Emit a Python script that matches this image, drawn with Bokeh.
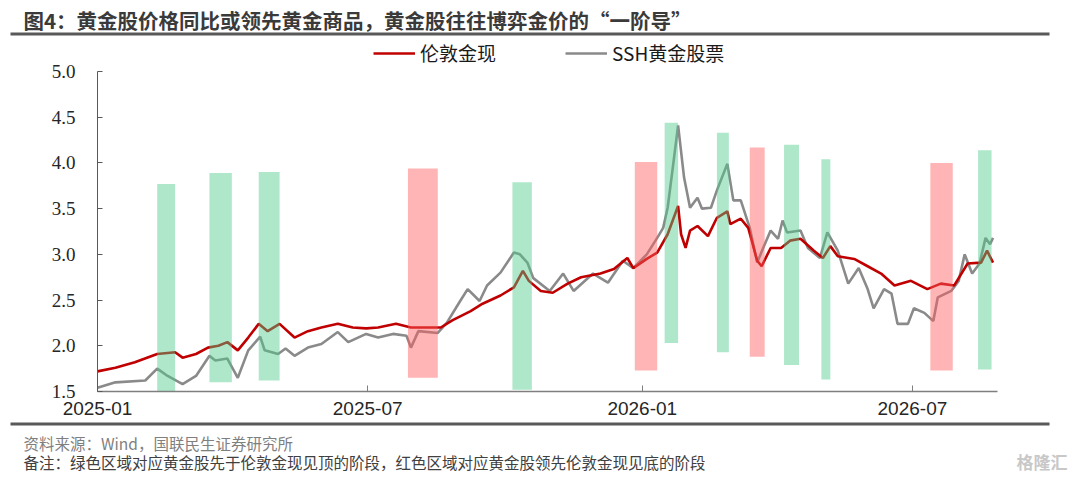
import pandas as pd
from bokeh.plotting import figure
from bokeh.layouts import column
from bokeh.models import (Range1d, FixedTicker, DatetimeTickFormatter, NumeralTickFormatter,
                          ColumnDataSource, Legend, LegendItem)
from bokeh.core.properties import value
from bokeh.embed import file_html
from bokeh.resources import INLINE

# ---------------- data ----------------
gold_dates = ["2025-01-01", "2025-01-13", "2025-01-26", "2025-02-10", "2025-02-22", "2025-02-27",
              "2025-03-08", "2025-03-16", "2025-03-23", "2025-03-29", "2025-04-05", "2025-04-12",
              "2025-04-19", "2025-04-25", "2025-05-03", "2025-05-13", "2025-05-22", "2025-05-31",
              "2025-06-11", "2025-06-21", "2025-06-30", "2025-07-08", "2025-07-20", "2025-07-30",
              "2025-08-10", "2025-08-19", "2025-08-27", "2025-09-08", "2025-09-16", "2025-09-28",
              "2025-10-07", "2025-10-13", "2025-10-17", "2025-10-25", "2025-11-02", "2025-11-12",
              "2025-11-21", "2025-12-04", "2025-12-13", "2025-12-22", "2025-12-26", "2026-01-04",
              "2026-01-11", "2026-01-18", "2026-01-25", "2026-01-27", "2026-01-30", "2026-02-02",
              "2026-02-07", "2026-02-14", "2026-02-20", "2026-02-27", "2026-03-01", "2026-03-08",
              "2026-03-13", "2026-03-19", "2026-03-22", "2026-03-28", "2026-04-04", "2026-04-10",
              "2026-04-17", "2026-04-26", "2026-05-02", "2026-05-07", "2026-05-12", "2026-05-23",
              "2026-06-01", "2026-06-10", "2026-06-19", "2026-06-30", "2026-07-11", "2026-07-20",
              "2026-07-29", "2026-08-07", "2026-08-16", "2026-08-20", "2026-08-24"]
gold_vals = [1.72, 1.76, 1.82, 1.91, 1.93, 1.87,
             1.91, 1.98, 2.00, 2.04, 1.95, 2.09,
             2.24, 2.16, 2.24, 2.09, 2.16, 2.20,
             2.24, 2.20, 2.19, 2.20, 2.24, 2.20,
             2.20, 2.20, 2.28, 2.38, 2.46, 2.55,
             2.64, 2.82, 2.71, 2.60, 2.58, 2.68,
             2.75, 2.79, 2.84, 2.96, 2.85, 2.95,
             3.02, 3.22, 3.53, 3.22, 3.07, 3.26,
             3.31, 3.20, 3.40, 3.47, 3.33, 3.39,
             3.29, 2.93, 2.87, 3.07, 3.07, 3.15,
             3.17, 3.04, 2.96, 3.09, 2.98, 2.95,
             2.87, 2.79, 2.66, 2.71, 2.62, 2.68,
             2.66, 2.90, 2.91, 3.04, 2.91]

ssh_dates = ["2025-01-01", "2025-01-13", "2025-02-02", "2025-02-10", "2025-02-17", "2025-02-27",
             "2025-03-08", "2025-03-17", "2025-03-21", "2025-03-29", "2025-04-05", "2025-04-12",
             "2025-04-20", "2025-04-23", "2025-05-02", "2025-05-07", "2025-05-13", "2025-05-22",
             "2025-05-31", "2025-06-11", "2025-06-18", "2025-06-30", "2025-07-08", "2025-07-18",
             "2025-07-27", "2025-07-30", "2025-08-04", "2025-08-17", "2025-08-23", "2025-09-01",
             "2025-09-06", "2025-09-14", "2025-09-19", "2025-09-28", "2025-10-07", "2025-10-11",
             "2025-10-16", "2025-10-20", "2025-10-31", "2025-11-09", "2025-11-16", "2025-11-29",
             "2025-12-09", "2025-12-19", "2025-12-26", "2026-01-04", "2026-01-11", "2026-01-15",
             "2026-01-18", "2026-01-22", "2026-01-25", "2026-01-29", "2026-02-02", "2026-02-07",
             "2026-02-10", "2026-02-16", "2026-02-20", "2026-02-27", "2026-03-03", "2026-03-08",
             "2026-03-14", "2026-03-19", "2026-03-23", "2026-03-28", "2026-04-02", "2026-04-05",
             "2026-04-08", "2026-04-17", "2026-04-22", "2026-04-30", "2026-05-05", "2026-05-12",
             "2026-05-19", "2026-05-26", "2026-06-01", "2026-06-05", "2026-06-12", "2026-06-17",
             "2026-06-21", "2026-06-28", "2026-07-02", "2026-07-09", "2026-07-15", "2026-07-18",
             "2026-07-27", "2026-08-01", "2026-08-05", "2026-08-10", "2026-08-15", "2026-08-19",
             "2026-08-22", "2026-08-24"]
ssh_vals = [1.54, 1.60, 1.62, 1.75, 1.67, 1.58,
            1.67, 1.89, 1.84, 1.86, 1.65, 1.95,
            2.10, 1.95, 1.91, 1.97, 1.89, 1.98,
            2.02, 2.15, 2.04, 2.13, 2.09, 2.13,
            2.11, 1.98, 2.16, 2.14, 2.25, 2.49,
            2.62, 2.49, 2.66, 2.80, 3.02, 3.00,
            2.91, 2.74, 2.60, 2.79, 2.60, 2.79,
            2.69, 2.93, 2.85, 3.00, 3.18, 3.29,
            3.51, 4.02, 4.41, 3.84, 3.51, 3.62,
            3.50, 3.51, 3.70, 3.99, 3.59, 3.59,
            3.29, 2.91, 3.07, 3.26, 3.17, 3.37,
            3.24, 3.26, 3.07, 2.96, 3.24, 3.04,
            2.68, 2.85, 2.62, 2.41, 2.62, 2.57,
            2.24, 2.24, 2.41, 2.36, 2.27, 2.53,
            2.60, 2.71, 3.00, 2.79, 2.90, 3.18,
            3.11, 3.18]

green_start = ["2025-02-10", "2025-03-17", "2025-04-19", "2025-10-06", "2026-01-16",
               "2026-02-20", "2026-04-06", "2026-05-01", "2026-08-14"]
green_end = ["2025-02-22", "2025-04-01", "2025-05-03", "2025-10-19", "2026-01-25",
             "2026-02-28", "2026-04-16", "2026-05-07", "2026-08-23"]
green_low = [1.50, 1.60, 1.62, 1.52, 2.03, 1.93, 1.79, 1.63, 1.74]
green_high = [3.77, 3.89, 3.90, 3.79, 4.44, 4.33, 4.20, 4.04, 4.14]

red_start = ["2025-07-28", "2025-12-27", "2026-03-14", "2026-07-13"]
red_end = ["2025-08-17", "2026-01-11", "2026-03-24", "2026-07-28"]
red_low = [1.65, 1.73, 1.88, 1.73]
red_high = [3.94, 4.01, 4.17, 4.00]

x_tick_dates = ["2025-01-01", "2025-07-01", "2026-01-01", "2026-07-01"]
y_ticks = [1.5, 2.0, 2.5, 3.0, 3.5, 4.0, 4.5, 5.0]
y_min, y_max = 1.5, 5.0

title_text = "图4：黄金股价格同比或领先黄金商品，黄金股往往博弈金价的“一阶导”"
source_text = "资料来源：Wind，国联民生证券研究所"
note_text = "备注：绿色区域对应黄金股先于伦敦金现见顶的阶段，红色区域对应黄金股领先伦敦金现见底的阶段"
watermark_text = "格隆汇"
series_names = ["伦敦金现", "SSH黄金股票"]
series_colors = ["#c00000", "#8a8a8a"]

CJK = "Noto Sans CJK SC"
W = 1080
TOP_H, MAIN_H, BOT_H = 36, 385, 62


def blank_fig(h):
    f = figure(width=W, height=h, x_range=Range1d(0, W), y_range=Range1d(h, 0),
               output_backend="svg", toolbar_location=None,
               x_axis_location=None, y_axis_location=None,
               min_border=0, min_border_left=0, min_border_right=0,
               min_border_top=0, min_border_bottom=0, frame_align=False)
    f.grid.visible = False
    f.outline_line_color = None
    f.background_fill_color = "white"
    f.border_fill_color = "white"
    return f


# ---------------- header: title and rule ----------------
top = blank_fig(TOP_H)
top.text(x=[23], y=[19], text=[title_text], text_font=value(CJK), text_font_size="20.5px",
         text_font_style="bold", text_color="#3a3a3a", text_baseline="middle", text_align="left")
top.quad(left=[10], right=[1049], top=[32], bottom=[35], fill_color="#595959", line_color=None)

# ---------------- main chart ----------------
# frame: 97..997 px wide; the value axis spans 320 px (1.5..5.0) and the frame
# reaches 35 px higher so that the legend sits inside it above the 5.0 tick
ML, MR, MT, MB = 97, 83, 0, 30
AXIS_PX, EXTRA_PX = 320, 35
y_top = y_max + EXTRA_PX * (y_max - y_min) / AXIS_PX
p = figure(width=W, height=MAIN_H, x_axis_type="datetime", output_backend="svg",
           toolbar_location=None, min_border_left=ML, min_border_right=MR,
           min_border_top=MT, min_border_bottom=MB, frame_align=False,
           x_range=Range1d(pd.Timestamp("2025-01-01"), pd.Timestamp("2026-08-27")),
           y_range=Range1d(y_min, y_top))
p.outline_line_color = None
p.grid.visible = False
p.background_fill_color = "white"
p.border_fill_color = "white"

gsrc = ColumnDataSource(dict(x=pd.to_datetime(gold_dates), y=gold_vals))
ssrc = ColumnDataSource(dict(x=pd.to_datetime(ssh_dates), y=ssh_vals))
r_ssh = p.line("x", "y", source=ssrc, line_color=series_colors[1], line_width=2.6)
r_gold = p.line("x", "y", source=gsrc, line_color=series_colors[0], line_width=2.6)

p.quad(left=pd.to_datetime(green_start), right=pd.to_datetime(green_end),
       bottom=green_low, top=green_high, fill_color="#4cc98a", fill_alpha=0.45, line_color=None)
p.quad(left=pd.to_datetime(red_start), right=pd.to_datetime(red_end),
       bottom=red_low, top=red_high, fill_color="#ff5a5a", fill_alpha=0.45, line_color=None)

xa = p.xaxis[0]
xa.ticker = FixedTicker(ticks=[pd.Timestamp(d).value / 1e6 for d in x_tick_dates])
xa.formatter = DatetimeTickFormatter(years="%Y-%m", months="%Y-%m", days="%Y-%m",
                                     hours="%Y-%m", hourmin="%Y-%m")
xa.major_tick_in = 6
xa.major_tick_out = 0
xa.minor_tick_line_color = None
xa.axis_line_color = "#7f7f7f"
xa.axis_line_width = 1.5
xa.major_tick_line_color = "#7f7f7f"
xa.major_label_text_font = "Liberation Sans"
xa.major_label_text_font_size = "19px"
xa.major_label_text_color = "#262626"
xa.major_label_standoff = 10

ya = p.yaxis[0]
ya.bounds = (y_min, y_max)
ya.ticker = FixedTicker(ticks=y_ticks)
ya.formatter = NumeralTickFormatter(format="0.0")
ya.major_tick_in = 5
ya.major_tick_out = 0
ya.minor_tick_line_color = None
ya.axis_line_color = "#595959"
ya.major_tick_line_color = "#595959"
ya.major_label_text_font = "Liberation Serif"
ya.major_label_text_font_size = "19px"
ya.major_label_text_color = "#262626"
ya.major_label_standoff = 22

legend = Legend(items=[LegendItem(label=series_names[0], renderers=[r_gold]),
                       LegendItem(label=series_names[1], renderers=[r_ssh])],
                orientation="horizontal", location=(276, 325), margin=0, padding=0,
                border_line_color=None, background_fill_alpha=0,
                glyph_width=42, glyph_height=20, label_standoff=5, spacing=69,
                label_text_font=CJK, label_text_font_size="19px",
                label_text_color="#1a1a1a", label_height=20)
p.add_layout(legend, "center")

# ---------------- footer ----------------
bot = blank_fig(BOT_H)
bot.quad(left=[10], right=[1049], top=[1], bottom=[4], fill_color="#595959", line_color=None)
bot.text(x=[23], y=[21], text=[source_text], text_font=value(CJK), text_font_size="15.5px",
         text_color="#7f7f7f", text_baseline="middle", text_align="left")
bot.text(x=[23], y=[40], text=[note_text], text_font=value(CJK), text_font_size="15.5px",
         text_color="#404040", text_baseline="middle", text_align="left")
bot.text(x=[1016], y=[40], text=[watermark_text], text_font=value(CJK), text_font_size="17px",
         text_font_style="bold", text_color="#c8c8c8", text_baseline="middle", text_align="left")

layout = column(top, p, bot, spacing=0)
open("out.html", "w").write(file_html(layout, INLINE))
